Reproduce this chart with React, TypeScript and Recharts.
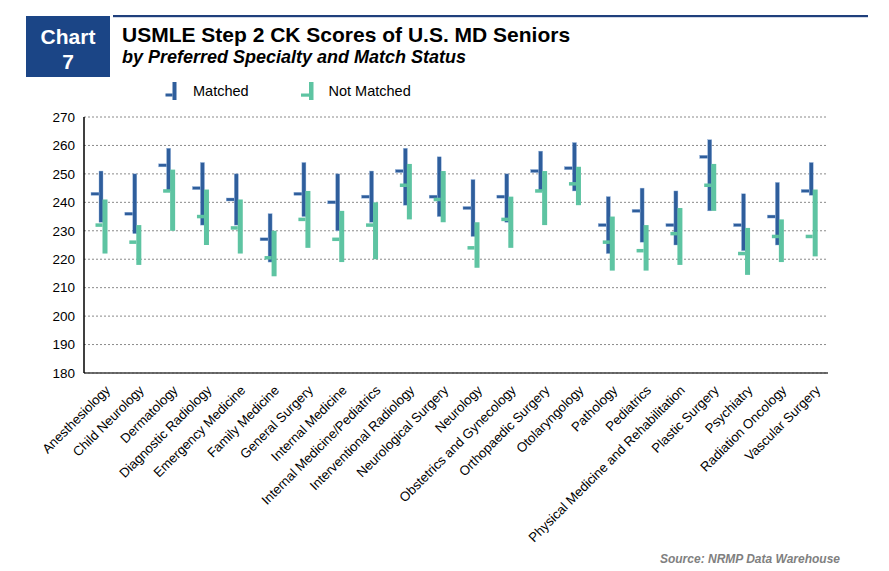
import React from "react";
import { ComposedChart, Bar, XAxis, YAxis, CartesianGrid } from "recharts";

const categories = [
  "Anesthesiology",
  "Child Neurology",
  "Dermatology",
  "Diagnostic Radiology",
  "Emergency Medicine",
  "Family Medicine",
  "General Surgery",
  "Internal Medicine",
  "Internal Medicine/Pediatrics",
  "Interventional Radiology",
  "Neurological Surgery",
  "Neurology",
  "Obstetrics and Gynecology",
  "Orthopaedic Surgery",
  "Otolaryngology",
  "Pathology",
  "Pediatrics",
  "Physical Medicine and Rehabilitation",
  "Plastic Surgery",
  "Psychiatry",
  "Radiation Oncology",
  "Vascular Surgery",
];

const matchedLow = [233, 229, 244, 232, 232, 219, 235, 230, 233, 239, 235, 228, 233, 244, 244, 222, 226, 225, 237, 223, 225, 242.5];
const matchedHigh = [251, 250, 259, 254, 250, 236, 254, 250, 251, 259, 256, 248, 250, 258, 261, 242, 245, 244, 262, 243, 247, 254];
const matchedMean = [243, 236, 253, 245, 241, 227, 243, 240, 242, 251, 242, 238, 242, 251, 252, 232, 237, 232, 256, 232, 235, 244];

const notMatchedLow = [222, 218, 230, 225, 222, 214, 224, 219, 220, 234, 233, 217, 224, 232, 239, 216, 216, 218, 237, 214.5, 219, 221];
const notMatchedHigh = [241, 232, 251.5, 244.5, 241, 230, 244, 237, 240, 253.5, 251, 233, 242, 251, 252.5, 235, 232, 238, 253.5, 231, 234, 244.5];
const notMatchedMean = [232, 226, 244, 235, 231, 220.5, 234, 227, 232, 246, 241, 224, 234, 244, 246.5, 226, 223, 229, 246, 222, 228, 228];

const yTicks = [180, 190, 200, 210, 220, 230, 240, 250, 260, 270];

const BLUE = "#2F5E9C";
const GREEN = "#5EC4A2";
const FONT = "'Liberation Sans', Arial, sans-serif";

const data = categories.map((name, i) => ({
  name,
  matched: [matchedLow[i], matchedHigh[i]],
  matchedMean: matchedMean[i],
  notMatched: [notMatchedLow[i], notMatchedHigh[i]],
  notMatchedMean: notMatchedMean[i],
}));

function makeShape(kind: "m" | "n") {
  return (props: any) => {
    const { x, y, width, height, payload } = props;
    if (x == null || y == null) return null;
    const top = Math.min(y, y + height);
    const h = Math.abs(height);
    const range = kind === "m" ? payload.matched : payload.notMatched;
    const mean = kind === "m" ? payload.matchedMean : payload.notMatchedMean;
    const lo = range[0];
    const hi = range[1];
    const meanY = top + (hi - lo === 0 ? 0 : (h * (hi - mean)) / (hi - lo));
    const cx = x + width / 2 + 2;
    if (kind === "m") {
      const w = 4;
      return (
        <g>
          <rect x={cx - w / 2} y={top} width={w} height={h} fill={BLUE} stroke="#8FB0DA" strokeWidth={0.4} />
          <rect x={cx - w / 2 - 8} y={meanY - 1.5} width={8} height={3} fill={BLUE} stroke="#8FB0DA" strokeWidth={0.4} />
        </g>
      );
    }
    const w = 5;
    return (
      <g>
        <rect x={cx - w / 2} y={top} width={w} height={h} fill={GREEN} />
        <rect x={cx - w / 2 - 7} y={meanY - 1.75} width={7} height={3.5} fill={GREEN} />
      </g>
    );
  };
}

const CategoryTick = (props: any) => {
  const { x, y, payload } = props;
  const tx = x + 10;
  const ty = y + 18;
  return (
    <text
      x={tx}
      y={ty}
      transform={`rotate(-45 ${tx} ${ty})`}
      textAnchor="end"
      fontSize={13.2}
      fontFamily={FONT}
      fill="#000"
    >
      {payload.value}
    </text>
  );
};

const Header = () => (
  <svg
    width={889}
    height={571}
    style={{ position: "absolute", left: 0, top: 0, pointerEvents: "none" }}
  >
    <rect x={26} y={16} width={84} height={61} fill="#1B4586" />
    <text x={68} y={43.5} textAnchor="middle" fontSize={21} fontWeight="bold" fill="#fff" fontFamily={FONT}>
      Chart
    </text>
    <text x={68} y={68.5} textAnchor="middle" fontSize={21} fontWeight="bold" fill="#fff" fontFamily={FONT}>
      7
    </text>
    <rect x={113} y={15} width={755} height={2.2} fill="#1F3F7C" />
    <text x={122} y={41.7} fontSize={21} fontWeight="bold" fill="#000" fontFamily={FONT}>
      USMLE Step 2 CK Scores of U.S. MD Seniors
    </text>
    <text x={122} y={63.3} fontSize={18} fontWeight="bold" fontStyle="italic" fill="#000" fontFamily={FONT}>
      by Preferred Specialty and Match Status
    </text>
    {/* legend */}
    <rect x={172.5} y={82} width={4} height={18} fill={BLUE} />
    <rect x={165.5} y={93.5} width={7} height={3} fill={BLUE} />
    <text x={193} y={95.7} fontSize={14.5} fill="#000" fontFamily={FONT}>
      Matched
    </text>
    <rect x={309} y={82} width={4.5} height={18} fill={GREEN} />
    <rect x={301} y={93.5} width={8} height={3.2} fill={GREEN} />
    <text x={328.5} y={95.7} fontSize={14.5} fill="#000" fontFamily={FONT}>
      Not Matched
    </text>
    <text
      x={840}
      y={563}
      textAnchor="end"
      fontSize={12}
      fontWeight="bold"
      fontStyle="italic"
      fill="#808080"
      fontFamily={FONT}
    >
      Source: NRMP Data Warehouse
    </text>
  </svg>
);

export default function App() {
  return (
    <div
      style={{
        position: "absolute",
        left: 0,
        top: 0,
        width: 889,
        height: 571,
        background: "#fff",
        fontFamily: FONT,
      }}
    >
      <ComposedChart
        width={889}
        height={571}
        data={data}
        margin={{ top: 117, right: 61, bottom: 0, left: 0 }}
        barGap={0}
        barSize={4}
      >
        <CartesianGrid
          horizontal={true}
          vertical={false}
          stroke="#8a8a8a"
          strokeDasharray="2 2"
          yAxisId="left"
        />
        <XAxis
          dataKey="name"
          xAxisId="bottom"
          interval={0}
          height={198}
          tickLine={false}
          tickSize={0}
          tickMargin={0}
          axisLine={{ stroke: "#404040", strokeWidth: 1.5 }}
          tick={<CategoryTick />}
        />
        <XAxis
          dataKey="name"
          xAxisId="top"
          orientation="top"
          height={0}
          tick={false}
          tickLine={false}
          axisLine={{ stroke: "#8a8a8a", strokeWidth: 1.2 }}
        />
        <YAxis
          yAxisId="left"
          domain={[180, 270]}
          ticks={yTicks}
          interval={0}
          width={84}
          tickLine={false}
          tickSize={0}
          tickMargin={9}
          axisLine={{ stroke: "#000", strokeWidth: 1.5 }}
          tick={{ fontSize: 13.5, fill: "#000", fontFamily: FONT }}
        />
        <YAxis
          yAxisId="right"
          orientation="right"
          domain={[180, 270]}
          width={0}
          tick={false}
          tickLine={false}
          axisLine={{ stroke: "#8a8a8a", strokeWidth: 1.2 }}
        />
        <Bar
          dataKey="matched"
          xAxisId="bottom"
          yAxisId="left"
          isAnimationActive={false}
          shape={makeShape("m")}
        />
        <Bar
          dataKey="notMatched"
          xAxisId="bottom"
          yAxisId="left"
          isAnimationActive={false}
          shape={makeShape("n")}
        />
      </ComposedChart>
      <Header />
    </div>
  );
}
